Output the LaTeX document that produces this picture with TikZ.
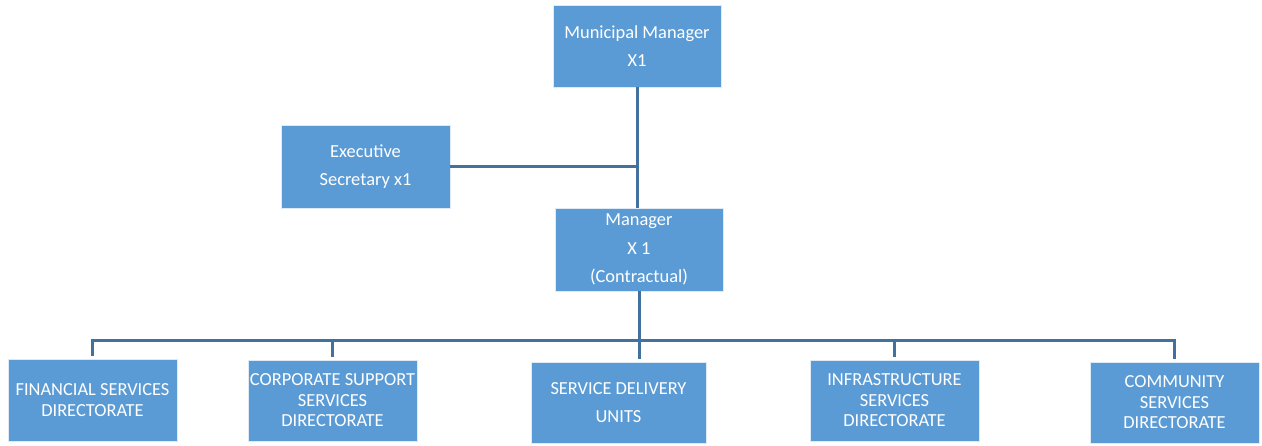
\documentclass[tikz,border=0pt]{standalone}
\usepackage{fontspec}
\setmainfont{Carlito}
\usepackage{xcolor}
\usepackage{tikz}
\usetikzlibrary{positioning, calc}
\definecolor{OrgFill}{RGB}{91, 155, 213}
\definecolor{OrgLine}{RGB}{65, 113, 156}
\definecolor{OrgEdge}{RGB}{222, 235, 247}

\tikzset{
  orgbox/.style={
    rectangle, fill=OrgFill, draw=OrgEdge, line width=0.6pt,
    text=white, align=center, inner sep=1pt
  },
  widebox/.style={orgbox, font=\fontsize{18.4}{28.5}\selectfont},
  tightbox/.style={orgbox, font=\fontsize{18.4}{20.5}\selectfont},
  link/.style={draw=OrgLine, line width=3pt}
}

\begin{document}
\begin{tikzpicture}[x=1pt, y=-1pt]
    \useasboundingbox (0,0) rectangle (1262,445);

    % top of the chart
    \node[widebox, minimum width=168pt, minimum height=82pt] (mm) at (637,46)
      {Municipal Manager\\X1};
    \node[widebox, minimum width=169pt, minimum height=83pt] (es) at (365.5,166.5)
      {Executive\\Secretary x1};
    \node[widebox, minimum width=168pt, minimum height=83pt] (mgr) at (639,249.5)
      {Manager\\X 1\\(Contractual)};

    % directorates
    \node[tightbox, minimum width=169pt, minimum height=82pt] (fin) at (92.5,400)
      {FINANCIAL SERVICES\\DIRECTORATE};
    \node[tightbox, minimum width=169pt, minimum height=81pt] (corp) at (332.5,400.5)
      {CORPORATE SUPPORT\\SERVICES\\DIRECTORATE};
    \node[widebox, minimum width=175pt, minimum height=81pt] (sdu) at (618.5,402.5)
      {SERVICE DELIVERY\\UNITS};
    \node[tightbox, minimum width=169pt, minimum height=81pt] (infra) at (894.5,400.5)
      {INFRASTRUCTURE\\SERVICES\\DIRECTORATE};
    \node[tightbox, minimum width=169pt, minimum height=81pt] (comm) at (1174.5,402.5)
      {COMMUNITY\\SERVICES\\DIRECTORATE};

    % connectors
    \draw[link] (mm.south) -- (mm.south |- mgr.north);
    \draw[link] (es.east) -- (es.east -| mm.south);
    \draw[link, shorten >=3pt] (mgr.south) -- (mgr.south |- sdu.north);
    \foreach \unit in {fin, corp, infra, comm}
      \draw[link, shorten >=3pt] (mgr.south) -- ++(0,49) -| (\unit.north);
  \end{tikzpicture}
\end{document}
